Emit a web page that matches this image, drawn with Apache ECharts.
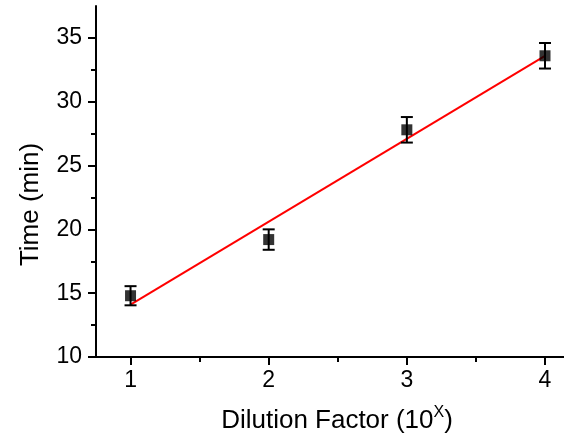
<!DOCTYPE html>
<html><head><meta charset="utf-8">
<script src="https://cdn.jsdelivr.net/npm/echarts@6/dist/echarts.min.js"></script>
<style>html,body{margin:0;padding:0;background:#fff;overflow:hidden}#c{width:564px;height:439px}</style>
</head><body><div id="c"></div>
<script>
const xVals = [1, 2, 3, 4];
const yVals = [14.8, 19.2, 27.8, 33.6];
const yErr = [0.75, 0.8, 1.0, 1.0];
const fitX = [1, 4];
const fitY = [14.1, 33.6];
const yTicks = [10, 15, 20, 25, 30, 35];
const yMinor = [12.5, 17.5, 22.5, 27.5, 32.5];
const xTicks = [1, 2, 3, 4];
const xMinor = [1.5, 2.5, 3.5];

const FONT = '"Liberation Sans", Arial, sans-serif';
const chart = echarts.init(document.getElementById('c'), null, {renderer: 'canvas'});
const axisLine = {show: true, onZero: false, lineStyle: {color: '#000', width: 2}};
chart.setOption({
  animation: false,
  backgroundColor: '#fff',
  grid: {left: 96, top: 6, bottom: 78, right: 0, containLabel: false},
  xAxis: [{
    type: 'value', min: 0.75, max: 4.1375, position: 'bottom',
    axisLine: axisLine,
    axisTick: {show: true, inside: false, length: 8, customValues: xTicks, lineStyle: {color: '#000', width: 2}},
    axisLabel: {customValues: xTicks, margin: 12, color: '#000', fontSize: 23, fontFamily: FONT},
    splitLine: {show: false},
    name: 'Dilution Factor (10{sup|X})', nameLocation: 'middle', nameGap: 48,
    nameTextStyle: {color: '#000', fontSize: 26, fontFamily: FONT, padding: [0, 0, 0, 14],
      rich: {sup: {fontSize: 16, fontFamily: FONT, color: '#000', verticalAlign: 'top', padding: [0, 0, 16, 0]}}}
  }, {
    type: 'value', min: 0.75, max: 4.1375, position: 'bottom',
    axisLine: {show: false},
    axisTick: {show: true, length: 5, customValues: xMinor, lineStyle: {color: '#000', width: 2}},
    axisLabel: {show: false}, splitLine: {show: false}
  }],
  yAxis: [{
    type: 'value', min: 10, max: 37.5, position: 'left',
    axisLine: axisLine,
    axisTick: {show: true, length: 8, customValues: yTicks, lineStyle: {color: '#000', width: 2}},
    axisLabel: {customValues: yTicks, margin: 14, color: '#000', fontSize: 23, fontFamily: FONT},
    splitLine: {show: false},
    name: 'Time (min)', nameLocation: 'middle', nameGap: 52, nameRotate: 90,
    nameTextStyle: {color: '#000', fontSize: 26, fontFamily: FONT, padding: [0, 46, 0, 0]}
  }, {
    type: 'value', min: 10, max: 37.5, position: 'left',
    axisLine: {show: false},
    axisTick: {show: true, length: 5, customValues: yMinor, lineStyle: {color: '#000', width: 2}},
    axisLabel: {show: false}, splitLine: {show: false}
  }],
  series: [{
    type: 'line', data: fitX.map((x, i) => [x, fitY[i]]), symbol: 'none', z: 1,
    lineStyle: {color: '#ff0000', width: 2}
  }, {
    type: 'custom', z: 3,
    data: xVals.map((x, i) => [x, yVals[i] - yErr[i], yVals[i] + yErr[i]]),
    renderItem: function (params, api) {
      const lo = api.coord([api.value(0), api.value(1)]);
      const hi = api.coord([api.value(0), api.value(2)]);
      const hw = 6;
      const st = {stroke: '#000', lineWidth: 2};
      return {type: 'group', children: [
        {type: 'line', shape: {x1: lo[0], y1: lo[1], x2: hi[0], y2: hi[1]}, style: st},
        {type: 'line', shape: {x1: lo[0] - hw, y1: lo[1], x2: lo[0] + hw, y2: lo[1]}, style: st},
        {type: 'line', shape: {x1: hi[0] - hw, y1: hi[1], x2: hi[0] + hw, y2: hi[1]}, style: st}
      ]};
    }
  }, {
    type: 'scatter', z: 4, data: xVals.map((x, i) => [x, yVals[i]]),
    symbol: 'rect', symbolSize: 11, itemStyle: {color: '#000'}
  }]
});
</script></body></html>
